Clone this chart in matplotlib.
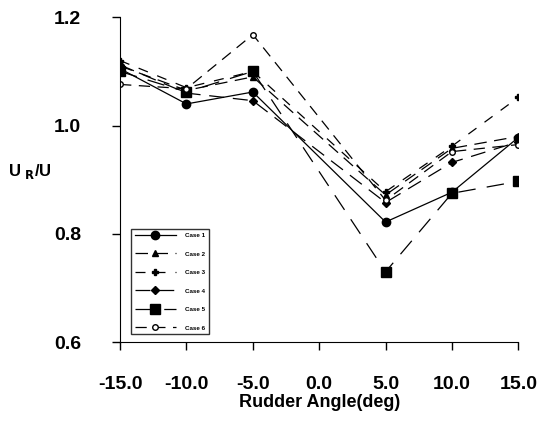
import matplotlib
matplotlib.use("Agg")
import matplotlib.pyplot as plt

plt.rcParams['font.family'] = ['Liberation Sans', 'DejaVu Sans']

angles = [-15, -10, -5, 5, 10, 15]
case1 = [1.105, 1.040, 1.062, 0.822, 0.877, 0.978]
case2 = [1.110, 1.065, 1.090, 0.872, 0.958, 0.980]
case3 = [1.120, 1.070, 1.100, 0.878, 0.962, 1.052]
case4 = [1.112, 1.060, 1.046, 0.858, 0.932, 0.970]
case5 = [1.100, 1.062, 1.100, 0.730, 0.875, 0.897]
case6 = [1.076, 1.068, 1.168, 0.862, 0.952, 0.965]
labels = ["Case 1", "Case 2", "Case 3", "Case 4", "Case 5", "Case 6"]
xticks = [-15.0, -10.0, -5.0, 0.0, 5.0, 10.0, 15.0]
yticks = [0.6, 0.8, 1.0, 1.2]

fig = plt.figure(figsize=(5.41, 4.21), dpi=100)
ax = fig.add_axes([0.222, 0.187, 0.736, 0.772])

styles = [
    dict(marker="o", ms=6, ls="-", lw=0.9),
    dict(marker="^", ms=5, ls=(0, (10, 6)), lw=0.9),
    dict(marker="P", ms=5, ls=(0, (8, 8)), lw=0.9),
    dict(marker="D", ms=4, ls=(0, (12, 7)), lw=0.9),
    dict(marker="s", ms=6.5, ls=(0, (14, 9)), lw=0.9),
    dict(marker="o", ms=4, ls=(0, (9, 6)), lw=0.9, mfc="white"),
]
for data, lab, st in zip([case1, case2, case3, case4, case5, case6], labels, styles):
    ax.plot(angles, data, color="black", label=lab, **st)

ax.set_xlim(-15, 15)
ax.set_ylim(0.6, 1.2)
ax.set_xticks(xticks)
ax.set_xticklabels([f"{v:.1f}" for v in xticks])
ax.set_yticks(yticks)
ax.set_yticklabels([f"{v:.1f}" for v in yticks])
for s in ["top", "right"]:
    ax.spines[s].set_visible(False)
ax.tick_params(direction="out", length=6, width=1, labelsize=14)
ax.tick_params(axis="x", pad=18)
ax.tick_params(axis="y", pad=22)
for lbl in ax.get_xticklabels() + ax.get_yticklabels():
    lbl.set_fontweight("bold")

ax.set_xlabel("Rudder Angle(deg)", fontsize=13, fontweight="bold", labelpad=1)
fig.text(0.015, 0.592, r"U $_{\mathbf{R}}$/U", fontsize=12, fontweight="bold",
         ha="left", va="center")

leg = ax.legend(loc="lower left", bbox_to_anchor=(0.02, 0.015), fontsize=4.5,
                frameon=True, fancybox=False, edgecolor="black",
                handlelength=6.5, labelspacing=2.1, borderpad=0.6,
                handletextpad=1.5)
for t in leg.get_texts():
    t.set_fontweight("bold")
leg.get_frame().set_linewidth(1.0)

fig.savefig("out.png", dpi=100)
